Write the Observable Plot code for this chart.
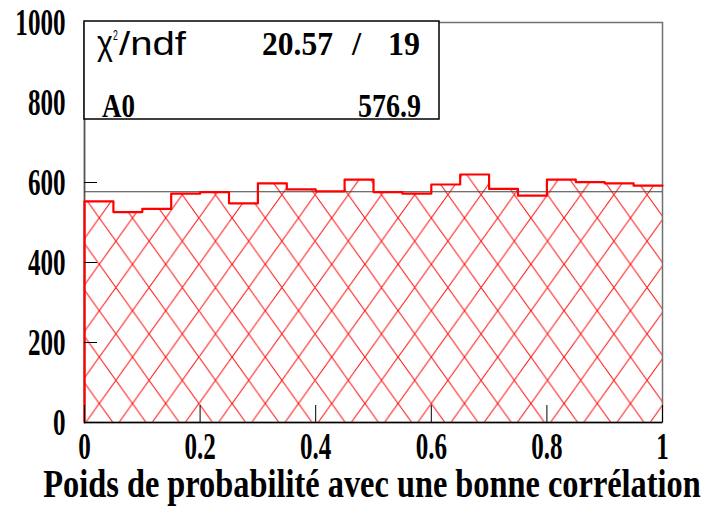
<!DOCTYPE html>
<html><head><meta charset="utf-8">
<script src="https://cdn.jsdelivr.net/npm/d3@7"></script>
<script src="https://cdn.jsdelivr.net/npm/@observablehq/plot@0.6"></script>
<style>
html,body{margin:0;padding:0;background:#fff;}
#chart{position:relative;width:707px;height:515px;overflow:hidden;}
</style></head><body>
<svg width="0" height="0" style="position:absolute">
  <defs>
    <pattern id="hatch" patternUnits="userSpaceOnUse" x="99.3" y="264.3" width="33.2" height="46.4">
      <path d="M0,0L33.2,46.4M33.2,0L0,46.4" stroke="#ff0000" stroke-width="1" fill="none"/>
    </pattern>
  </defs>
</svg>
<div id="chart"></div>
<script>
// ---- data ----
const binStarts = [0,0.05,0.1,0.15,0.2,0.25,0.3,0.35,0.4,0.45,0.5,0.55,0.6,0.65,0.7,0.75,0.8,0.85,0.9,0.95];
const binWidth = 0.05;
const counts = [553,526,534,572,576,548,598,583,578,607,576,572,595,620,584,567,607,601,598,592];
const fitValue = 576.9;
const xTicks = [0,0.2,0.4,0.6,0.8,1];
const xTickLabels = ["0","0.2","0.4","0.6","0.8","1"];
const yTicks = [0,200,400,600,800,1000];
const yTickLabels = ["0","200","400","600","800","1000"];
const xTitle = "Poids de probabilité avec une bonne corrélation";
const statNames = ["ndf","A0"];
const statValues = ["20.57","576.9"];
const statNdf = "19";

// ---- build ----
const rows = binStarts.map((x0,i)=>({x1:x0, x2:x0+binWidth, y:counts[i]}));
const outline = [{x:binStarts[0], y:0}, ...rows.map(r=>({x:r.x1, y:r.y})), {x:rows[rows.length-1].x2, y:counts[counts.length-1]}];

const plot = Plot.plot({
  width:707, height:515,
  marginLeft:84, marginRight:45, marginTop:22, marginBottom:93,
  x:{domain:[0,1]},
  y:{domain:[0,1000]},
  style:{background:"#fff"},
  marks:[
    Plot.rectY(rows,{x1:"x1",x2:"x2",y:"y",fill:"url(#hatch)"}),
    Plot.frame({stroke:"#707070", strokeWidth:1.5}),
    Plot.ruleX([0],{stroke:"#555", strokeWidth:1.5}),
    Plot.ruleY([fitValue],{stroke:"#404040", strokeWidth:1.2}),
    Plot.line(outline,{x:"x",y:"y",curve:"step-after",stroke:"#ff0000",strokeWidth:2.2}),
    Plot.ruleY([0],{stroke:"#000", strokeWidth:1.5}),
    Plot.axisY(yTicks,{tickSize:-13, tickFormat:()=>"", label:null, stroke:"#000"}),
    Plot.axisX(xTicks,{tickSize:-17, tickFormat:()=>"", label:null, stroke:"#000"}),
    Plot.axisY(yTicks,{tickSize:0, tickPadding:19, tickFormat:(d)=>yTickLabels[yTicks.indexOf(d)], label:null}),
    Plot.axisX(xTicks,{tickSize:0, tickPadding:10, tickFormat:(d)=>xTickLabels[xTicks.indexOf(d)], label:null})
  ]
});
document.getElementById("chart").appendChild(plot);

const svg = d3.select(plot);
// style tick labels: bold condensed serif
svg.selectAll('g[aria-label$="tick label"]').each(function(){
  const g = d3.select(this);
  g.attr("font-family","'Liberation Serif', serif").attr("font-weight","bold").attr("font-size",38).attr("fill","#000");
  g.selectAll("text").each(function(){
    const t = this.getAttribute("transform") || "";
    this.setAttribute("transform", t + " scale(0.66,1)");
  });
});

function placeText(parent, str, x, y, anchor, target, opts){
  const t = parent.append("text").attr("text-anchor",anchor)
    .attr("font-family",opts.family).attr("font-weight",opts.weight).attr("font-size",opts.size).attr("fill","#000")
    .text(str);
  const w = t.node().getBBox().width;
  const s = target ? target / w : 1;
  t.attr("transform",`translate(${x},${y}) scale(${s},1)`);
  return t;
}
const serifB = {family:"'Liberation Serif', serif", weight:"bold", size:33};

// x axis title
placeText(svg, xTitle, 372, 497, "middle", 658, {family:"'Liberation Serif', serif", weight:"bold", size:39});

// stats box
const box = svg.append("g");
box.append("rect").attr("x",84).attr("y",21).attr("width",355).attr("height",98)
  .attr("fill","#fff").attr("stroke","#000").attr("stroke-width",1.5);
placeText(box, "χ", 97, 55, "start", 16, {family:"'Liberation Sans', sans-serif", weight:"normal", size:36});
placeText(box, "2", 113, 40, "start", 5, {family:"'Liberation Sans', sans-serif", weight:"normal", size:14});
placeText(box, "/" + statNames[0], 119, 55, "start", 68, {family:"'Liberation Sans', sans-serif", weight:"normal", size:33});
placeText(box, statValues[0], 262, 55, "start", 71, serifB);
placeText(box, "/", 352, 55, "start", null, serifB);
placeText(box, statNdf, 420, 55, "end", 32, serifB);
placeText(box, statNames[1], 102, 117, "start", 33, serifB);
placeText(box, statValues[1], 421, 117, "end", 63, serifB);
</script>
</body></html>
